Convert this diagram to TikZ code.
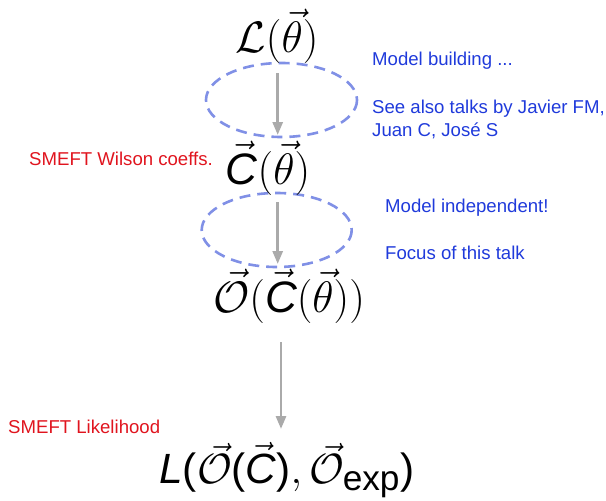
\documentclass[tikz,border=0pt]{standalone}
\usepackage{fontspec}
\setmainfont{Liberation Sans}
\setsansfont{Liberation Sans}
\usepackage{amsmath}
\usetikzlibrary{arrows.meta}

\definecolor{notegreyblue}{HTML}{8090E6}
\definecolor{noteblue}{HTML}{1F3ADB}
\definecolor{notered}{HTML}{E0141E}
\definecolor{flowgrey}{HTML}{AAAAAA}

% sans italic letters inside formulas
\newcommand{\sfi}[1]{\text{\sffamily\itshape #1}}
\newcommand{\sfu}[1]{\text{\sffamily #1}}

\begin{document}
\begin{tikzpicture}[x=1pt,y=-1pt,
  formula/.style={inner sep=0pt, font=\Huge, scale=1.77},
  bluenote/.style={inner sep=0pt, anchor=base west, text=noteblue,
    font=\fontsize{18.6}{23}\selectfont},
  rednote/.style={inner sep=0pt, anchor=base west, text=notered,
    font=\fontsize{18.6}{23}\selectfont},
  zone/.style={draw=notegreyblue, line width=2.6pt, dash pattern=on 11pt off 7pt},
  flow/.style={draw=flowgrey, line width=2.8pt,
    -{Triangle[length=13pt,width=10pt]}}]
\useasboundingbox (0,0) rectangle (606,501);

% dashed zones around the first two steps
\draw[zone] (281.5,100) ellipse [x radius=75.5, y radius=37];
\draw[zone] (276.7,230) ellipse [x radius=75, y radius=37];

% formulas of the chain
\node[formula] (lag) at (277,36) {$\mathcal{L}(\vec{\theta})$};
\node[formula] (wc)  at (268,168) {$\vec{\sfi{C}}(\vec{\theta})$};
\node[formula] (obs) at (289,296) {$\vec{\mathcal{O}}(\vec{\sfi{C}}(\vec{\theta}))$};
\node[formula, scale=0.96] (lik) at (287,470) {$\sfi{L}\sfu{(}\vec{\mathcal{O}}\sfu{(}\vec{\sfi{C}}\sfu{)}, \vec{\mathcal{O}}_{\sfu{exp}}\sfu{)}$};

% anchors of the arrows
\coordinate (a1s) at (277.7,73);  \coordinate (a1e) at (277.7,135);
\coordinate (a2s) at (277.7,202); \coordinate (a2e) at (277.7,264);
\coordinate (a3s) at (281,342);   \coordinate (a3e) at (281,429);
\draw[flow] (a1s) -- (a1e);
\draw[flow] (a2s) -- (a2e);
\draw[flow] (a3s) -- (a3e);

% notes
\node[bluenote] (n1) at (372,65)  {Model building ...};
\node[bluenote] (n2) at (372,113) {See also talks by Javier FM,};
\node[bluenote] (n3) at (372,136) {Juan C, José S};
\node[bluenote] (n4) at (385,212) {Model independent!};
\node[bluenote] (n5) at (385,259) {Focus of this talk};
\node[rednote]  (r1) at (29,165)  {SMEFT Wilson coeffs.};
\node[rednote]  (r2) at (8,433)   {SMEFT Likelihood};
\end{tikzpicture}
\end{document}
